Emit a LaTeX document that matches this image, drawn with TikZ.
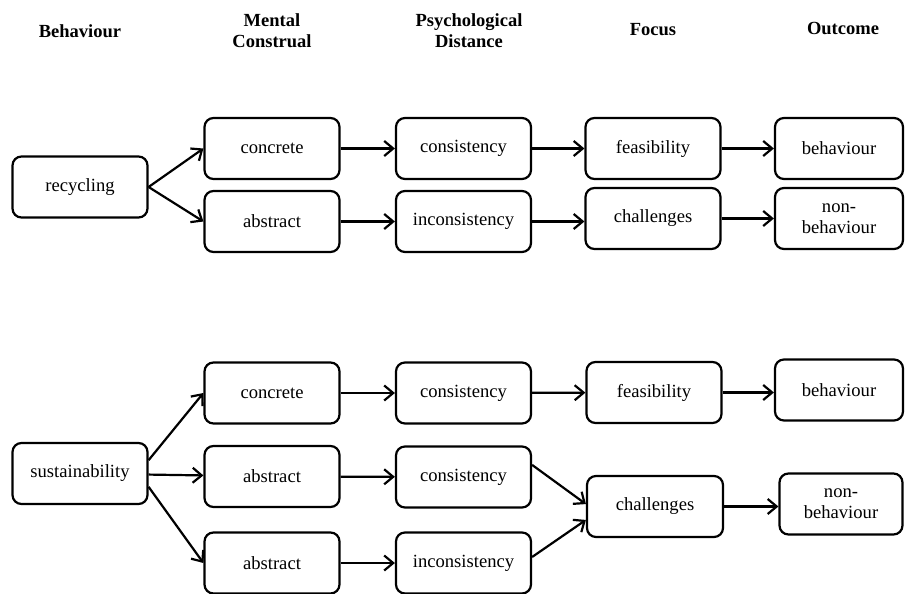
\documentclass[tikz,border=0pt]{standalone}
\usepackage{fontspec}
\setmainfont{Liberation Serif}
\usetikzlibrary{arrows.meta}

\begin{document}
\begin{tikzpicture}[x=1pt, y=-1pt,
  box/.style={draw, line width=2.2pt, rounded corners=9pt, minimum width=135pt,
    minimum height=61pt, inner sep=2pt, align=center, font=\fontsize{18.6}{21}\selectfont},
  head/.style={align=center, font=\bfseries\fontsize{18.5}{21}\selectfont},
  >={Straight Barb[length=9pt,width=15pt]}]
\useasboundingbox (0,0) rectangle (905,594);

\node (H1) at (80,31) [head] {Behaviour};
\node (H2) at (272,31) [head] {Mental\\Construal};
\node (H3) at (469,31) [head] {Psychological\\Distance};
\node (H4) at (653,30) [head] {Focus};
\node (H5) at (843,28) [head] {Outcome};

% recycling
\node (B1) at (80,187) [box] {recycling};
\node (M1) at (272,148.5) [box] {concrete};
\node (M2) at (272,221.5) [box] {abstract};
\node (P1) at (463.5,148.5) [box] {consistency};
\node (P2) at (463.5,221.5) [box] {inconsistency};
\node (F1) at (653,148.5) [box] {feasibility};
\node (F2) at (653,218.5) [box] {challenges};
\node (O1) at (839,148.5) [box, minimum width=128pt] {behaviour};
\node (O2) at (839,218.5) [box, minimum width=128pt] {non-\\behaviour};

% sustainability
\node (B2) at (80,473.5) [box] {sustainability};
\node (M3) at (272,393) [box] {concrete};
\node (M4) at (272,476.5) [box] {abstract};
\node (M5) at (272,563) [box] {abstract};
\node (P3) at (463.5,393) [box] {consistency};
\node (P4) at (463.5,477) [box] {consistency};
\node (P5) at (463.5,563) [box] {inconsistency};
\node (F3) at (654,392.5) [box] {feasibility};
\node (F4) at (655,506.5) [box, minimum width=136pt] {challenges};
\node (O3) at (839,390) [box, minimum width=128pt] {behaviour};
\node (O4) at (841,504) [box, minimum width=123pt] {non-\\behaviour};

\begin{scope}[line width=2.2pt]
\draw [->] (B1.east) -- (M1.west);
\draw [->] (B1.east) -- (M2.west);
\draw [->] (M1) -- (P1);
\draw [->] (M2) -- (P2);
\draw [->] (P1) -- (F1);
\draw [->] (P2.east) -- (P2.east -| F2.west);
\draw [->] (F1) -- (O1);
\draw [->] (F2) -- (O2);

\draw [->] (B2.11) -- (M3.west);
\draw [->] (B2) -- (M4);
\draw [->] (B2.-11) -- (M5.west);
\draw [->] (M3) -- (P3);
\draw [->] (M4) -- (P4);
\draw [->] (M5) -- (P5);
\draw [->] (P3) -- (F3);
\draw [->] (P4.10) -- (F4.178);
\draw [->] (P5.5) -- (F4.191);
\draw [->] (F3.east) -- (F3.east -| O3.west);
\draw [->] (F4.east) -- (F4.east -| O4.west);
\end{scope}

\end{tikzpicture}
\end{document}
